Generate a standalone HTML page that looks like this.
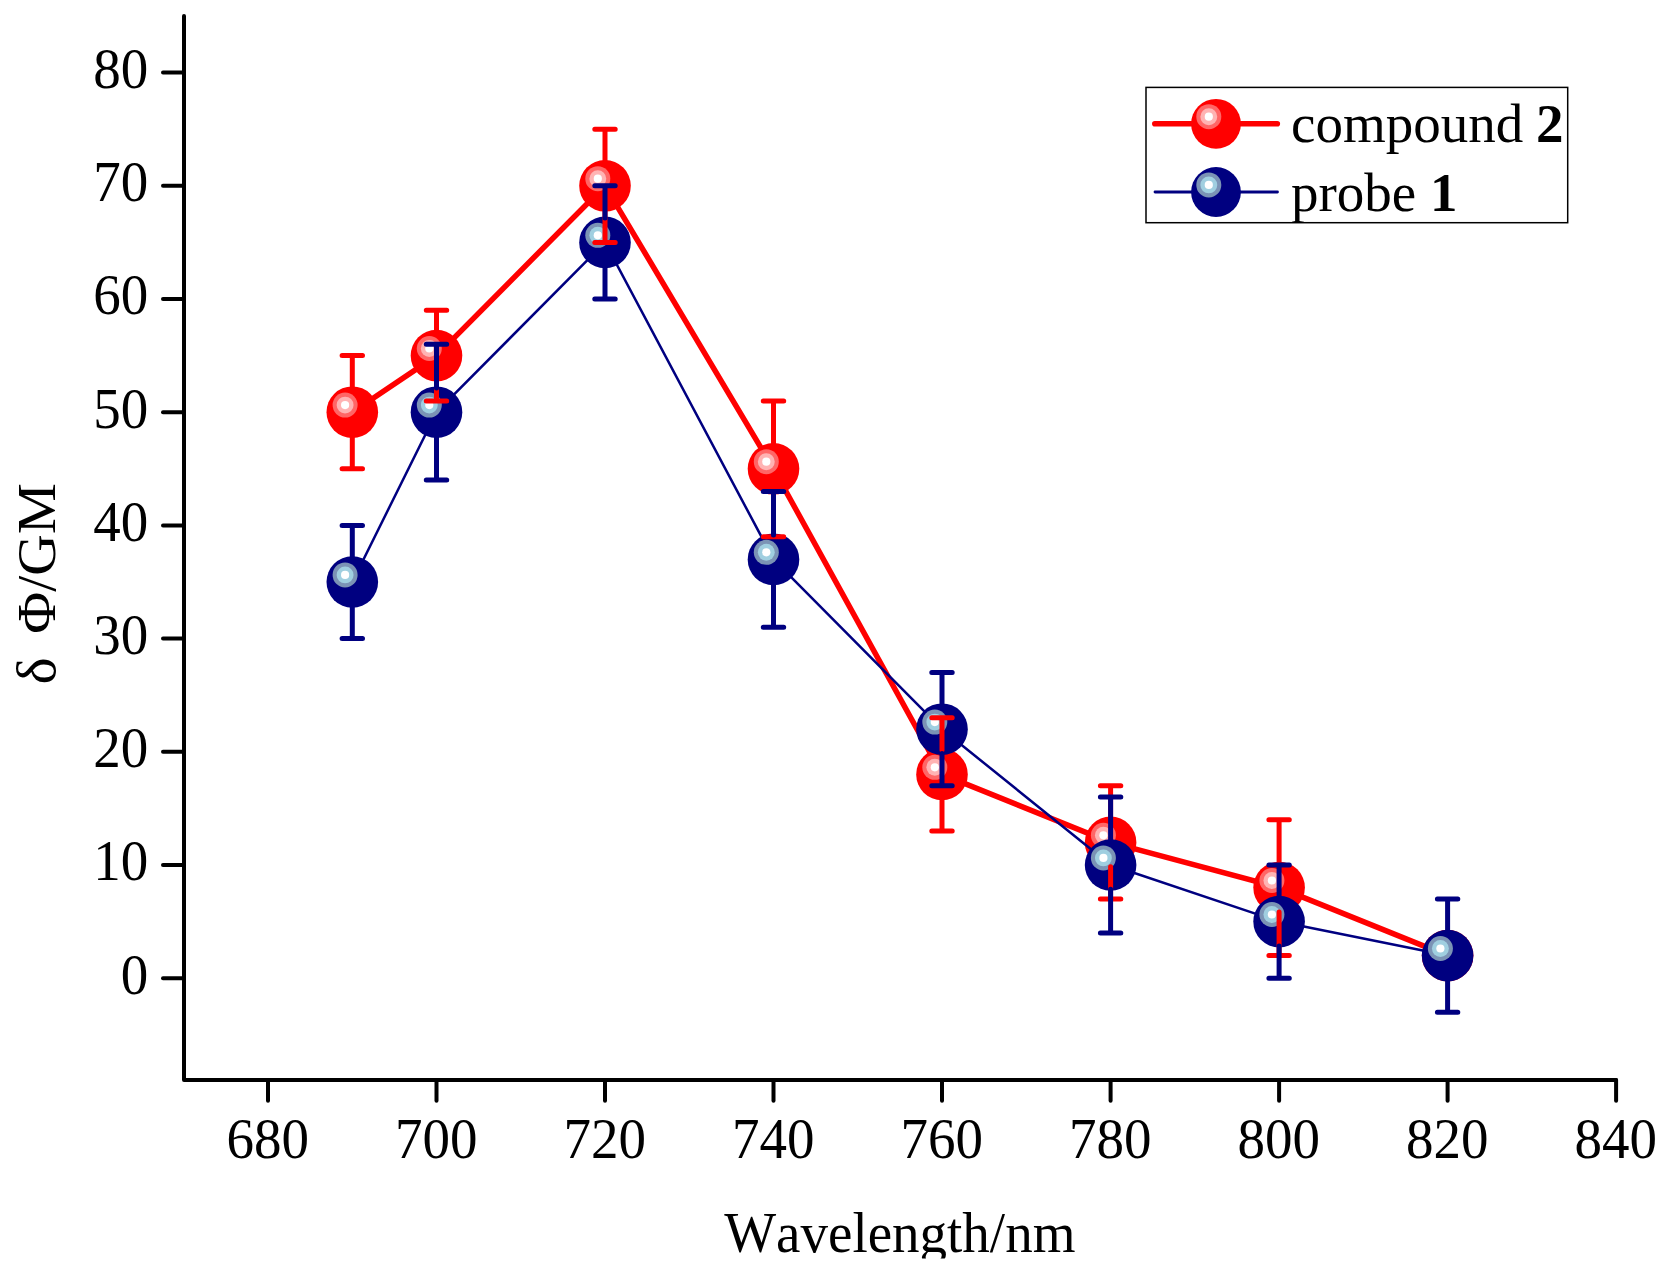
<!DOCTYPE html>
<html lang="en"><head><meta charset="utf-8"><title>Two-photon cross section chart</title>
<style>html,body{margin:0;padding:0;background:#fff}body{width:1669px;height:1272px;overflow:hidden}svg{display:block}text{font-family:"Liberation Serif","Times New Roman",serif;font-size:55px;fill:#000;font-kerning:none}</style></head><body>
<svg width="1669" height="1272" viewBox="0 0 1669 1272">
<defs><clipPath id="xl"><rect x="0" y="0" width="1669" height="1258.5"/></clipPath></defs>
<rect width="1669" height="1272" fill="#fff"/>
<g stroke="#000" stroke-width="4" stroke-linecap="round" stroke-linejoin="round" fill="none">
<path d="M184 16V1080H1616"/>
<path d="M163 978.2H184"/>
<path d="M163 865.0H184"/>
<path d="M163 751.8H184"/>
<path d="M163 638.6H184"/>
<path d="M163 525.4H184"/>
<path d="M163 412.2H184"/>
<path d="M163 299.0H184"/>
<path d="M163 185.8H184"/>
<path d="M163 72.6H184"/>
<path d="M268.0 1080V1100.7"/>
<path d="M436.5 1080V1100.7"/>
<path d="M605.0 1080V1100.7"/>
<path d="M773.5 1080V1100.7"/>
<path d="M942.0 1080V1100.7"/>
<path d="M1110.6 1080V1100.7"/>
<path d="M1279.1 1080V1100.7"/>
<path d="M1447.6 1080V1100.7"/>
<path d="M1616.1 1080V1100.7"/>
</g>
<text transform="translate(148.3 993.5) scale(1 1.02)" font-size="56" text-anchor="end">0</text>
<text transform="translate(148.3 880.3) scale(1 1.02)" font-size="56" text-anchor="end">10</text>
<text transform="translate(148.3 767.1) scale(1 1.02)" font-size="56" text-anchor="end">20</text>
<text transform="translate(148.3 653.9) scale(1 1.02)" font-size="56" text-anchor="end">30</text>
<text transform="translate(148.3 540.7) scale(1 1.02)" font-size="56" text-anchor="end">40</text>
<text transform="translate(148.3 427.5) scale(1 1.02)" font-size="56" text-anchor="end">50</text>
<text transform="translate(148.3 314.3) scale(1 1.02)" font-size="56" text-anchor="end">60</text>
<text transform="translate(148.3 201.1) scale(1 1.02)" font-size="56" text-anchor="end">70</text>
<text transform="translate(148.3 87.9) scale(1 1.02)" font-size="56" text-anchor="end">80</text>
<text transform="translate(267.7 1158) scale(1 1.02)" font-size="56" text-anchor="middle">680</text>
<text transform="translate(436.2 1158) scale(1 1.02)" font-size="56" text-anchor="middle">700</text>
<text transform="translate(604.7 1158) scale(1 1.02)" font-size="56" text-anchor="middle">720</text>
<text transform="translate(773.2 1158) scale(1 1.02)" font-size="56" text-anchor="middle">740</text>
<text transform="translate(941.7 1158) scale(1 1.02)" font-size="56" text-anchor="middle">760</text>
<text transform="translate(1110.3 1158) scale(1 1.02)" font-size="56" text-anchor="middle">780</text>
<text transform="translate(1278.8 1158) scale(1 1.02)" font-size="56" text-anchor="middle">800</text>
<text transform="translate(1447.3 1158) scale(1 1.02)" font-size="56" text-anchor="middle">820</text>
<text transform="translate(1615.8 1158) scale(1 1.02)" font-size="56" text-anchor="middle">840</text>
<g clip-path="url(#xl)"><text transform="translate(899.8 1251.6) scale(1 1.03)" font-size="55" text-anchor="middle">Wavelength/nm</text></g>
<text transform="translate(55.3 684.4) rotate(-90) scale(1.045 1)" font-size="55.5" word-spacing="8.8px">δ Φ/GM</text>
<polyline points="352.3,412.2 436.5,355.6 605.0,185.8 773.5,468.8 942.0,774.4 1110.6,842.4 1279.1,887.6 1447.6,955.6" fill="none" stroke="#ff0000" stroke-width="5.5" stroke-linejoin="round"/>
<circle cx="352.3" cy="412.2" r="25.8" fill="#ff0000"/><circle cx="345.1" cy="405.1" r="12.5" fill="#ff6666"/><circle cx="345.1" cy="405.1" r="8.45" fill="#ffb3b3"/><circle cx="345.1" cy="405.1" r="4.1" fill="#fff"/>
<circle cx="436.5" cy="355.6" r="25.8" fill="#ff0000"/><circle cx="429.3" cy="348.5" r="12.5" fill="#ff6666"/><circle cx="429.3" cy="348.5" r="8.45" fill="#ffb3b3"/><circle cx="429.3" cy="348.5" r="4.1" fill="#fff"/>
<circle cx="605.0" cy="185.8" r="25.8" fill="#ff0000"/><circle cx="597.8" cy="178.7" r="12.5" fill="#ff6666"/><circle cx="597.8" cy="178.7" r="8.45" fill="#ffb3b3"/><circle cx="597.8" cy="178.7" r="4.1" fill="#fff"/>
<circle cx="773.5" cy="468.8" r="25.8" fill="#ff0000"/><circle cx="766.3" cy="461.7" r="12.5" fill="#ff6666"/><circle cx="766.3" cy="461.7" r="8.45" fill="#ffb3b3"/><circle cx="766.3" cy="461.7" r="4.1" fill="#fff"/>
<circle cx="942.0" cy="774.4" r="25.8" fill="#ff0000"/><circle cx="934.8" cy="767.3" r="12.5" fill="#ff6666"/><circle cx="934.8" cy="767.3" r="8.45" fill="#ffb3b3"/><circle cx="934.8" cy="767.3" r="4.1" fill="#fff"/>
<circle cx="1110.6" cy="842.4" r="25.8" fill="#ff0000"/><circle cx="1103.4" cy="835.3" r="12.5" fill="#ff6666"/><circle cx="1103.4" cy="835.3" r="8.45" fill="#ffb3b3"/><circle cx="1103.4" cy="835.3" r="4.1" fill="#fff"/>
<circle cx="1279.1" cy="887.6" r="25.8" fill="#ff0000"/><circle cx="1271.9" cy="880.5" r="12.5" fill="#ff6666"/><circle cx="1271.9" cy="880.5" r="8.45" fill="#ffb3b3"/><circle cx="1271.9" cy="880.5" r="4.1" fill="#fff"/>
<circle cx="1447.6" cy="955.6" r="25.8" fill="#ff0000"/><circle cx="1440.4" cy="948.5" r="12.5" fill="#ff6666"/><circle cx="1440.4" cy="948.5" r="8.45" fill="#ffb3b3"/><circle cx="1440.4" cy="948.5" r="4.1" fill="#fff"/>
<polyline points="352.3,582.0 436.5,412.2 605.0,242.4 773.5,559.4 942.0,729.2 1110.6,865.0 1279.1,921.6 1447.6,955.6" fill="none" stroke="#000080" stroke-width="2.5" stroke-linejoin="round"/>
<circle cx="352.3" cy="582.0" r="25.8" fill="#000080"/><circle cx="345.1" cy="574.9" r="12.5" fill="#7b93b5"/><circle cx="345.1" cy="574.9" r="8.45" fill="#a0cfe0"/><circle cx="345.1" cy="574.9" r="4.1" fill="#fff"/>
<circle cx="436.5" cy="412.2" r="25.8" fill="#000080"/><circle cx="429.3" cy="405.1" r="12.5" fill="#7b93b5"/><circle cx="429.3" cy="405.1" r="8.45" fill="#a0cfe0"/><circle cx="429.3" cy="405.1" r="4.1" fill="#fff"/>
<circle cx="605.0" cy="242.4" r="25.8" fill="#000080"/><circle cx="597.8" cy="235.3" r="12.5" fill="#7b93b5"/><circle cx="597.8" cy="235.3" r="8.45" fill="#a0cfe0"/><circle cx="597.8" cy="235.3" r="4.1" fill="#fff"/>
<circle cx="773.5" cy="559.4" r="25.8" fill="#000080"/><circle cx="766.3" cy="552.3" r="12.5" fill="#7b93b5"/><circle cx="766.3" cy="552.3" r="8.45" fill="#a0cfe0"/><circle cx="766.3" cy="552.3" r="4.1" fill="#fff"/>
<circle cx="942.0" cy="729.2" r="25.8" fill="#000080"/><circle cx="934.8" cy="722.1" r="12.5" fill="#7b93b5"/><circle cx="934.8" cy="722.1" r="8.45" fill="#a0cfe0"/><circle cx="934.8" cy="722.1" r="4.1" fill="#fff"/>
<circle cx="1110.6" cy="865.0" r="25.8" fill="#000080"/><circle cx="1103.4" cy="857.9" r="12.5" fill="#7b93b5"/><circle cx="1103.4" cy="857.9" r="8.45" fill="#a0cfe0"/><circle cx="1103.4" cy="857.9" r="4.1" fill="#fff"/>
<circle cx="1279.1" cy="921.6" r="25.8" fill="#000080"/><circle cx="1271.9" cy="914.5" r="12.5" fill="#7b93b5"/><circle cx="1271.9" cy="914.5" r="8.45" fill="#a0cfe0"/><circle cx="1271.9" cy="914.5" r="4.1" fill="#fff"/>
<circle cx="1447.6" cy="955.6" r="25.8" fill="#000080"/><circle cx="1440.4" cy="948.5" r="12.5" fill="#7b93b5"/><circle cx="1440.4" cy="948.5" r="8.45" fill="#a0cfe0"/><circle cx="1440.4" cy="948.5" r="4.1" fill="#fff"/>
<g stroke="#ff0000" stroke-width="5" stroke-linecap="round" fill="none">
<path d="M342.1 355.6H362.5M342.1 468.8H362.5"/>
<path d="M352.3 356.6V387.9M352.3 436.5V467.8"/>
<path d="M426.3 310.3H446.7M426.3 400.9H446.7"/>
<path d="M436.5 311.3V331.3M436.5 379.9V399.9"/>
<path d="M594.8 129.2H615.2M594.8 242.4H615.2"/>
<path d="M605.0 130.2V161.5M605.0 210.1V241.4"/>
<path d="M763.3 400.9H783.7M763.3 536.7H783.7"/>
<path d="M773.5 401.9V444.5M773.5 493.1V535.7"/>
<path d="M931.8 717.8H952.2M931.8 831.0H952.2"/>
<path d="M942.0 718.8V750.1M942.0 798.7V830.0"/>
<path d="M1100.4 785.8H1120.8M1100.4 899.0H1120.8"/>
<path d="M1110.6 786.8V818.1M1110.6 866.7V898.0"/>
<path d="M1268.9 819.7H1289.3M1268.9 955.6H1289.3"/>
<path d="M1279.1 820.7V863.3M1279.1 911.9V954.6"/>
</g>
<g stroke="#000080" stroke-width="5" stroke-linecap="round" fill="none">
<path d="M342.1 525.4H362.5M342.1 638.6H362.5"/>
<path d="M352.3 526.4V557.7M352.3 606.3V637.6"/>
<path d="M426.3 344.3H446.7M426.3 480.1H446.7"/>
<path d="M436.5 345.3V387.9M436.5 436.5V479.1"/>
<path d="M594.8 185.8H615.2M594.8 299.0H615.2"/>
<path d="M605.0 186.8V218.1M605.0 266.7V298.0"/>
<path d="M763.3 491.4H783.7M763.3 627.3H783.7"/>
<path d="M773.5 492.4V535.1M773.5 583.7V626.3"/>
<path d="M931.8 672.6H952.2M931.8 785.8H952.2"/>
<path d="M942.0 673.6V704.9M942.0 753.5V784.8"/>
<path d="M1100.4 797.1H1120.8M1100.4 932.9H1120.8"/>
<path d="M1110.6 798.1V840.7M1110.6 889.3V931.9"/>
<path d="M1268.9 865.0H1289.3M1268.9 978.2H1289.3"/>
<path d="M1279.1 866.0V897.3M1279.1 945.9V977.2"/>
<path d="M1437.4 899.0H1457.8M1437.4 1012.2H1457.8"/>
<path d="M1447.6 900.0V931.3M1447.6 979.9V1011.2"/>
</g>
<rect x="1146" y="87.4" width="421.7" height="135.3" fill="none" stroke="#000" stroke-width="1.5"/>
<path d="M1154.8 123.7H1277.3" stroke="#ff0000" stroke-width="5.6" stroke-linecap="round"/>
<circle cx="1216.0" cy="123.8" r="24.9" fill="#ff0000"/><circle cx="1208.8" cy="116.7" r="12.5" fill="#ff6666"/><circle cx="1208.8" cy="116.7" r="8.45" fill="#ffb3b3"/><circle cx="1208.8" cy="116.7" r="4.1" fill="#fff"/>
<path d="M1155 192H1277.5" stroke="#000080" stroke-width="2.8" stroke-linecap="round"/>
<circle cx="1216.0" cy="192.0" r="24.9" fill="#000080"/><circle cx="1208.8" cy="184.9" r="12.5" fill="#7b93b5"/><circle cx="1208.8" cy="184.9" r="8.45" fill="#a0cfe0"/><circle cx="1208.8" cy="184.9" r="4.1" fill="#fff"/>
<text x="1291" y="142.2">compound <tspan font-weight="bold" dx="-1">2</tspan></text>
<text x="1291" y="210.6">probe <tspan font-weight="bold">1</tspan></text>
</svg></body></html>
